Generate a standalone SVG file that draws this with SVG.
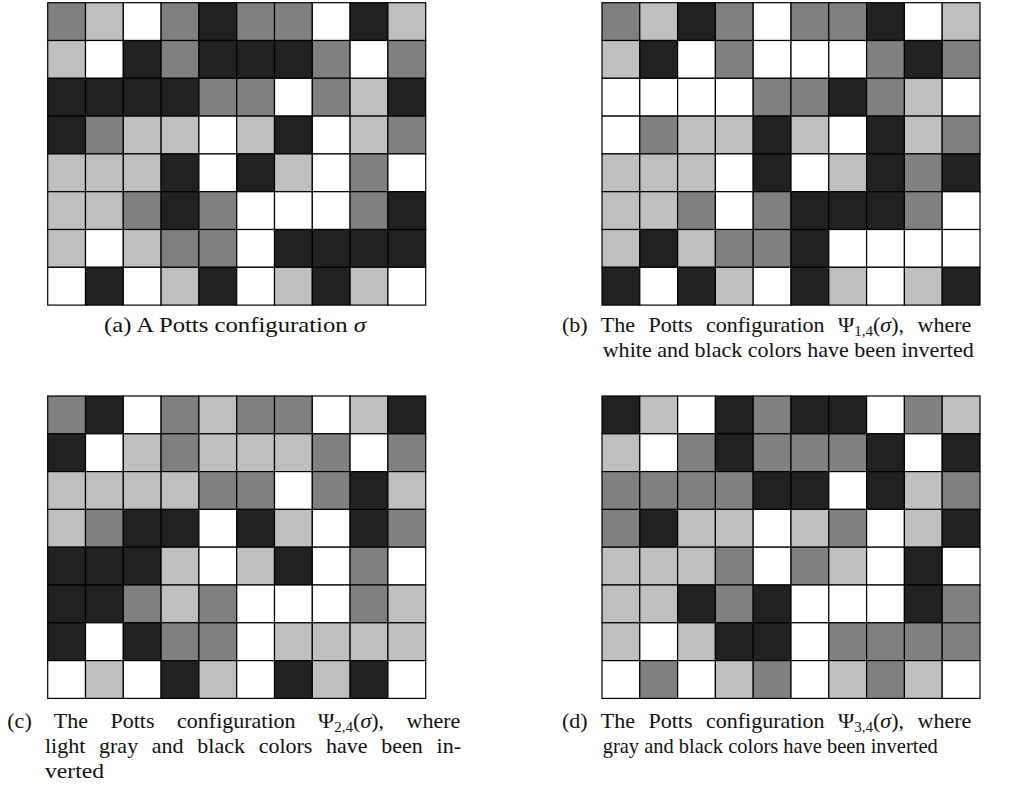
<svg xmlns="http://www.w3.org/2000/svg" width="1025" height="787" viewBox="0 0 1025 787">
<style>
.cell{stroke:#000;stroke-width:1.2}
.w{fill:#ffffff}.l{fill:#bfbfbf}.g{fill:#808080}.b{fill:#212121}
.cap{font-family:"Liberation Serif","Times New Roman",serif;font-size:22px;fill:#111}
.sub{font-size:15px}
.it{font-style:italic}
</style>
<defs>
<rect id="cw" class="cell w" width="37.8" height="37.8"/>
<rect id="cl" class="cell l" width="37.8" height="37.8"/>
<rect id="cg" class="cell g" width="37.8" height="37.8"/>
<rect id="cb" class="cell b" width="37.8" height="37.8"/>
</defs>
<rect width="1025" height="787" fill="#fff"/>

<g id="gridA" transform="translate(47.7,2.7)">
<g><use href="#cg" x="0"/><use href="#cl" x="37.8"/><use href="#cw" x="75.6"/><use href="#cg" x="113.4"/><use href="#cb" x="151.2"/><use href="#cg" x="189"/><use href="#cg" x="226.8"/><use href="#cw" x="264.6"/><use href="#cb" x="302.4"/><use href="#cl" x="340.2"/></g>
<g transform="translate(0,37.8)"><use href="#cl" x="0"/><use href="#cw" x="37.8"/><use href="#cb" x="75.6"/><use href="#cg" x="113.4"/><use href="#cb" x="151.2"/><use href="#cb" x="189"/><use href="#cb" x="226.8"/><use href="#cg" x="264.6"/><use href="#cw" x="302.4"/><use href="#cg" x="340.2"/></g>
<g transform="translate(0,75.6)"><use href="#cb" x="0"/><use href="#cb" x="37.8"/><use href="#cb" x="75.6"/><use href="#cb" x="113.4"/><use href="#cg" x="151.2"/><use href="#cg" x="189"/><use href="#cw" x="226.8"/><use href="#cg" x="264.6"/><use href="#cl" x="302.4"/><use href="#cb" x="340.2"/></g>
<g transform="translate(0,113.4)"><use href="#cb" x="0"/><use href="#cg" x="37.8"/><use href="#cl" x="75.6"/><use href="#cl" x="113.4"/><use href="#cw" x="151.2"/><use href="#cl" x="189"/><use href="#cb" x="226.8"/><use href="#cw" x="264.6"/><use href="#cl" x="302.4"/><use href="#cg" x="340.2"/></g>
<g transform="translate(0,151.2)"><use href="#cl" x="0"/><use href="#cl" x="37.8"/><use href="#cl" x="75.6"/><use href="#cb" x="113.4"/><use href="#cw" x="151.2"/><use href="#cb" x="189"/><use href="#cl" x="226.8"/><use href="#cw" x="264.6"/><use href="#cg" x="302.4"/><use href="#cw" x="340.2"/></g>
<g transform="translate(0,189)"><use href="#cl" x="0"/><use href="#cl" x="37.8"/><use href="#cg" x="75.6"/><use href="#cb" x="113.4"/><use href="#cg" x="151.2"/><use href="#cw" x="189"/><use href="#cw" x="226.8"/><use href="#cw" x="264.6"/><use href="#cg" x="302.4"/><use href="#cb" x="340.2"/></g>
<g transform="translate(0,226.8)"><use href="#cl" x="0"/><use href="#cw" x="37.8"/><use href="#cl" x="75.6"/><use href="#cg" x="113.4"/><use href="#cg" x="151.2"/><use href="#cw" x="189"/><use href="#cb" x="226.8"/><use href="#cb" x="264.6"/><use href="#cb" x="302.4"/><use href="#cb" x="340.2"/></g>
<g transform="translate(0,264.6)"><use href="#cw" x="0"/><use href="#cb" x="37.8"/><use href="#cw" x="75.6"/><use href="#cl" x="113.4"/><use href="#cb" x="151.2"/><use href="#cw" x="189"/><use href="#cl" x="226.8"/><use href="#cb" x="264.6"/><use href="#cl" x="302.4"/><use href="#cw" x="340.2"/></g>
</g>

<g id="gridB" transform="translate(602,2.7)">
<g><use href="#cg" x="0"/><use href="#cl" x="37.8"/><use href="#cb" x="75.6"/><use href="#cg" x="113.4"/><use href="#cw" x="151.2"/><use href="#cg" x="189"/><use href="#cg" x="226.8"/><use href="#cb" x="264.6"/><use href="#cw" x="302.4"/><use href="#cl" x="340.2"/></g>
<g transform="translate(0,37.8)"><use href="#cl" x="0"/><use href="#cb" x="37.8"/><use href="#cw" x="75.6"/><use href="#cg" x="113.4"/><use href="#cw" x="151.2"/><use href="#cw" x="189"/><use href="#cw" x="226.8"/><use href="#cg" x="264.6"/><use href="#cb" x="302.4"/><use href="#cg" x="340.2"/></g>
<g transform="translate(0,75.6)"><use href="#cw" x="0"/><use href="#cw" x="37.8"/><use href="#cw" x="75.6"/><use href="#cw" x="113.4"/><use href="#cg" x="151.2"/><use href="#cg" x="189"/><use href="#cb" x="226.8"/><use href="#cg" x="264.6"/><use href="#cl" x="302.4"/><use href="#cw" x="340.2"/></g>
<g transform="translate(0,113.4)"><use href="#cw" x="0"/><use href="#cg" x="37.8"/><use href="#cl" x="75.6"/><use href="#cl" x="113.4"/><use href="#cb" x="151.2"/><use href="#cl" x="189"/><use href="#cw" x="226.8"/><use href="#cb" x="264.6"/><use href="#cl" x="302.4"/><use href="#cg" x="340.2"/></g>
<g transform="translate(0,151.2)"><use href="#cl" x="0"/><use href="#cl" x="37.8"/><use href="#cl" x="75.6"/><use href="#cw" x="113.4"/><use href="#cb" x="151.2"/><use href="#cw" x="189"/><use href="#cl" x="226.8"/><use href="#cb" x="264.6"/><use href="#cg" x="302.4"/><use href="#cb" x="340.2"/></g>
<g transform="translate(0,189)"><use href="#cl" x="0"/><use href="#cl" x="37.8"/><use href="#cg" x="75.6"/><use href="#cw" x="113.4"/><use href="#cg" x="151.2"/><use href="#cb" x="189"/><use href="#cb" x="226.8"/><use href="#cb" x="264.6"/><use href="#cg" x="302.4"/><use href="#cw" x="340.2"/></g>
<g transform="translate(0,226.8)"><use href="#cl" x="0"/><use href="#cb" x="37.8"/><use href="#cl" x="75.6"/><use href="#cg" x="113.4"/><use href="#cg" x="151.2"/><use href="#cb" x="189"/><use href="#cw" x="226.8"/><use href="#cw" x="264.6"/><use href="#cw" x="302.4"/><use href="#cw" x="340.2"/></g>
<g transform="translate(0,264.6)"><use href="#cb" x="0"/><use href="#cw" x="37.8"/><use href="#cb" x="75.6"/><use href="#cl" x="113.4"/><use href="#cw" x="151.2"/><use href="#cb" x="189"/><use href="#cl" x="226.8"/><use href="#cw" x="264.6"/><use href="#cl" x="302.4"/><use href="#cb" x="340.2"/></g>
</g>

<g id="gridC" transform="translate(47.7,396)">
<g><use href="#cg" x="0"/><use href="#cb" x="37.8"/><use href="#cw" x="75.6"/><use href="#cg" x="113.4"/><use href="#cl" x="151.2"/><use href="#cg" x="189"/><use href="#cg" x="226.8"/><use href="#cw" x="264.6"/><use href="#cl" x="302.4"/><use href="#cb" x="340.2"/></g>
<g transform="translate(0,37.8)"><use href="#cb" x="0"/><use href="#cw" x="37.8"/><use href="#cl" x="75.6"/><use href="#cg" x="113.4"/><use href="#cl" x="151.2"/><use href="#cl" x="189"/><use href="#cl" x="226.8"/><use href="#cg" x="264.6"/><use href="#cw" x="302.4"/><use href="#cg" x="340.2"/></g>
<g transform="translate(0,75.6)"><use href="#cl" x="0"/><use href="#cl" x="37.8"/><use href="#cl" x="75.6"/><use href="#cl" x="113.4"/><use href="#cg" x="151.2"/><use href="#cg" x="189"/><use href="#cw" x="226.8"/><use href="#cg" x="264.6"/><use href="#cb" x="302.4"/><use href="#cl" x="340.2"/></g>
<g transform="translate(0,113.4)"><use href="#cl" x="0"/><use href="#cg" x="37.8"/><use href="#cb" x="75.6"/><use href="#cb" x="113.4"/><use href="#cw" x="151.2"/><use href="#cb" x="189"/><use href="#cl" x="226.8"/><use href="#cw" x="264.6"/><use href="#cb" x="302.4"/><use href="#cg" x="340.2"/></g>
<g transform="translate(0,151.2)"><use href="#cb" x="0"/><use href="#cb" x="37.8"/><use href="#cb" x="75.6"/><use href="#cl" x="113.4"/><use href="#cw" x="151.2"/><use href="#cl" x="189"/><use href="#cb" x="226.8"/><use href="#cw" x="264.6"/><use href="#cg" x="302.4"/><use href="#cw" x="340.2"/></g>
<g transform="translate(0,189)"><use href="#cb" x="0"/><use href="#cb" x="37.8"/><use href="#cg" x="75.6"/><use href="#cl" x="113.4"/><use href="#cg" x="151.2"/><use href="#cw" x="189"/><use href="#cw" x="226.8"/><use href="#cw" x="264.6"/><use href="#cg" x="302.4"/><use href="#cl" x="340.2"/></g>
<g transform="translate(0,226.8)"><use href="#cb" x="0"/><use href="#cw" x="37.8"/><use href="#cb" x="75.6"/><use href="#cg" x="113.4"/><use href="#cg" x="151.2"/><use href="#cw" x="189"/><use href="#cl" x="226.8"/><use href="#cl" x="264.6"/><use href="#cl" x="302.4"/><use href="#cl" x="340.2"/></g>
<g transform="translate(0,264.6)"><use href="#cw" x="0"/><use href="#cl" x="37.8"/><use href="#cw" x="75.6"/><use href="#cb" x="113.4"/><use href="#cl" x="151.2"/><use href="#cw" x="189"/><use href="#cb" x="226.8"/><use href="#cl" x="264.6"/><use href="#cb" x="302.4"/><use href="#cw" x="340.2"/></g>
</g>

<g id="gridD" transform="translate(602,396)">
<g><use href="#cb" x="0"/><use href="#cl" x="37.8"/><use href="#cw" x="75.6"/><use href="#cb" x="113.4"/><use href="#cg" x="151.2"/><use href="#cb" x="189"/><use href="#cb" x="226.8"/><use href="#cw" x="264.6"/><use href="#cg" x="302.4"/><use href="#cl" x="340.2"/></g>
<g transform="translate(0,37.8)"><use href="#cl" x="0"/><use href="#cw" x="37.8"/><use href="#cg" x="75.6"/><use href="#cb" x="113.4"/><use href="#cg" x="151.2"/><use href="#cg" x="189"/><use href="#cg" x="226.8"/><use href="#cb" x="264.6"/><use href="#cw" x="302.4"/><use href="#cb" x="340.2"/></g>
<g transform="translate(0,75.6)"><use href="#cg" x="0"/><use href="#cg" x="37.8"/><use href="#cg" x="75.6"/><use href="#cg" x="113.4"/><use href="#cb" x="151.2"/><use href="#cb" x="189"/><use href="#cw" x="226.8"/><use href="#cb" x="264.6"/><use href="#cl" x="302.4"/><use href="#cg" x="340.2"/></g>
<g transform="translate(0,113.4)"><use href="#cg" x="0"/><use href="#cb" x="37.8"/><use href="#cl" x="75.6"/><use href="#cl" x="113.4"/><use href="#cw" x="151.2"/><use href="#cl" x="189"/><use href="#cg" x="226.8"/><use href="#cw" x="264.6"/><use href="#cl" x="302.4"/><use href="#cb" x="340.2"/></g>
<g transform="translate(0,151.2)"><use href="#cl" x="0"/><use href="#cl" x="37.8"/><use href="#cl" x="75.6"/><use href="#cg" x="113.4"/><use href="#cw" x="151.2"/><use href="#cg" x="189"/><use href="#cl" x="226.8"/><use href="#cw" x="264.6"/><use href="#cb" x="302.4"/><use href="#cw" x="340.2"/></g>
<g transform="translate(0,189)"><use href="#cl" x="0"/><use href="#cl" x="37.8"/><use href="#cb" x="75.6"/><use href="#cg" x="113.4"/><use href="#cb" x="151.2"/><use href="#cw" x="189"/><use href="#cw" x="226.8"/><use href="#cw" x="264.6"/><use href="#cb" x="302.4"/><use href="#cg" x="340.2"/></g>
<g transform="translate(0,226.8)"><use href="#cl" x="0"/><use href="#cw" x="37.8"/><use href="#cl" x="75.6"/><use href="#cb" x="113.4"/><use href="#cb" x="151.2"/><use href="#cw" x="189"/><use href="#cg" x="226.8"/><use href="#cg" x="264.6"/><use href="#cg" x="302.4"/><use href="#cg" x="340.2"/></g>
<g transform="translate(0,264.6)"><use href="#cw" x="0"/><use href="#cg" x="37.8"/><use href="#cw" x="75.6"/><use href="#cl" x="113.4"/><use href="#cg" x="151.2"/><use href="#cw" x="189"/><use href="#cl" x="226.8"/><use href="#cg" x="264.6"/><use href="#cl" x="302.4"/><use href="#cw" x="340.2"/></g>
</g>

<g id="captionA">
<text class="cap" x="104" y="332" textLength="262" lengthAdjust="spacingAndGlyphs">(a) A Potts configuration <tspan class="it">σ</tspan></text>
</g>
<g id="captionB">
<text class="cap" x="562" y="332" word-spacing="8">(b) The Potts configuration Ψ<tspan class="sub" dy="4">1,4</tspan><tspan dy="-4">(</tspan><tspan class="it">σ</tspan>), where</text>
<text class="cap" x="602.7" y="357" textLength="371" lengthAdjust="spacingAndGlyphs">white and black colors have been inverted</text>
</g>
<g id="captionC">
<text class="cap" x="7.3" y="727.5" word-spacing="17">(c) The Potts configuration Ψ<tspan class="sub" dy="4">2,4</tspan><tspan dy="-4">(</tspan><tspan class="it">σ</tspan>), where</text>
<text class="cap" x="45" y="752.5" word-spacing="8.2">light gray and black colors have been in-</text>
<text class="cap" x="45" y="777.5" textLength="59" lengthAdjust="spacingAndGlyphs">verted</text>
</g>
<g id="captionD">
<text class="cap" x="562" y="727.5" word-spacing="8">(d) The Potts configuration Ψ<tspan class="sub" dy="4">3,4</tspan><tspan dy="-4">(</tspan><tspan class="it">σ</tspan>), where</text>
<text class="cap" x="602.7" y="752.5" textLength="335" lengthAdjust="spacingAndGlyphs">gray and black colors have been inverted</text>
</g>
</svg>
